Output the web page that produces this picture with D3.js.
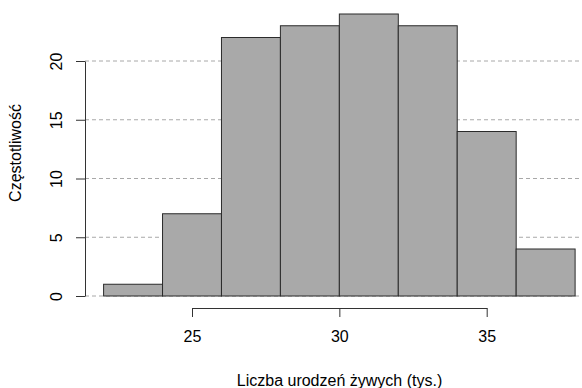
<!DOCTYPE html>
<html>
<head>
<meta charset="utf-8">
<script src="https://cdn.jsdelivr.net/npm/d3@7"></script>
<style>
  body { margin: 0; background: #fff; }
  text { font-family: "Liberation Sans", Arial, sans-serif; fill: #000; }
</style>
</head>
<body>
<div id="chart"></div>
<script>
// Histogram data
const binStarts = [22, 24, 26, 28, 30, 32, 34, 36];
const binWidth = 2;
const counts = [1, 7, 22, 23, 24, 23, 14, 4];
const xTicks = [25, 30, 35];
const yTicks = [0, 5, 10, 15, 20];

const W = 582, H = 388;

const x = d3.scaleLinear().domain([25, 35]).range([192, 486.7]);
const y = d3.scaleLinear().domain([0, 20]).range([296, 61]);

const svg = d3.select("#chart")
    .append("svg")
    .attr("width", W)
    .attr("height", H);

// Dashed grid lines (behind bars)
svg.selectAll(".grid")
    .data(yTicks)
    .enter()
    .append("line")
    .attr("x1", 85)
    .attr("x2", W)
    .attr("y1", d => y(d))
    .attr("y2", d => y(d))
    .attr("stroke", "#a8a8a8")
    .attr("stroke-width", 1)
    .attr("stroke-dasharray", "4,3");

// Bars
svg.selectAll(".bar")
    .data(binStarts)
    .enter()
    .append("rect")
    .attr("x", d => x(d))
    .attr("y", (d, i) => y(counts[i]))
    .attr("width", d => x(d + binWidth) - x(d))
    .attr("height", (d, i) => y(0) - y(counts[i]))
    .attr("fill", "#a9a9a9")
    .attr("stroke", "#2b2b2b")
    .attr("stroke-width", 1);

// X axis (R style: line spans first to last tick, ticks outward)
const xAxis = svg.append("g")
    .attr("transform", "translate(0,308)")
    .call(d3.axisBottom(x).tickValues(xTicks).tickSize(9).tickPadding(14).tickSizeOuter(0));
xAxis.select(".domain").attr("stroke", "#333");
xAxis.selectAll(".tick line").attr("stroke", "#333");
xAxis.selectAll("text")
    .style("font-size", "16px")
    .style("font-family", "Liberation Sans, Arial, sans-serif");

// Y axis
const yAxis = svg.append("g")
    .attr("transform", "translate(85,0)")
    .call(d3.axisLeft(y).tickValues(yTicks).tickSize(9).tickPadding(0).tickSizeOuter(0));
yAxis.select(".domain").attr("stroke", "#333");
yAxis.selectAll(".tick line").attr("stroke", "#333");
yAxis.selectAll("text")
    .attr("dy", "0")
    .attr("transform", "rotate(-90)")
    .attr("text-anchor", "middle")
    .attr("dominant-baseline", "central")
    .style("font-size", "16px")
    .style("font-family", "Liberation Sans, Arial, sans-serif")
    .attr("x", 0)
    .attr("y", -29);

// Axis titles
svg.append("text")
    .attr("x", 339.5)
    .attr("y", 380)
    .attr("text-anchor", "middle")
    .attr("dominant-baseline", "central")
    .style("font-size", "16px")
    .text("Liczba urodzeń żywych (tys.)");

svg.append("text")
    .attr("transform", "translate(15,153) rotate(-90)")
    .attr("text-anchor", "middle")
    .attr("dominant-baseline", "central")
    .style("font-size", "16px")
    .text("Częstotliwość");
</script>
</body>
</html>
